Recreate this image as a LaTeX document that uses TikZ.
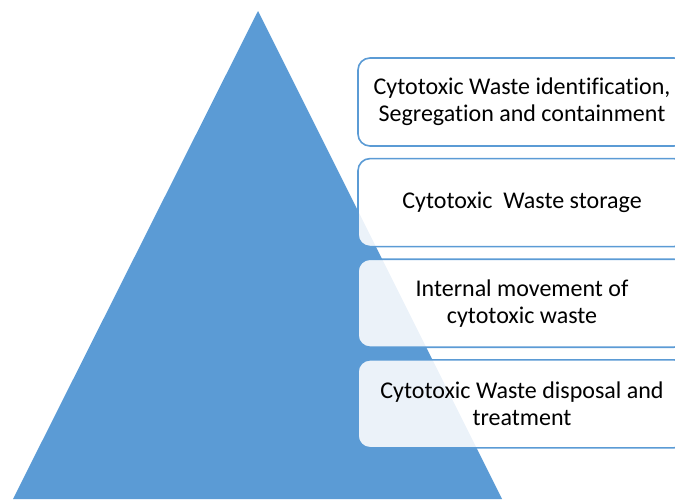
\documentclass[tikz,border=0pt]{standalone}
\usepackage{fontspec}
\setmainfont{Carlito}[Ligatures=NoCommon]
\usetikzlibrary{positioning}
\definecolor{pyrblue}{HTML}{5B9BD5}

\begin{document}
\begin{tikzpicture}[
                x=1pt, y=-1pt,
                node distance=11pt,
                stage/.style={draw=pyrblue, line width=1.6pt, fill=white,
                        fill opacity=0.88, text opacity=1, rounded corners=12pt,
                        minimum width=328pt, minimum height=88pt, inner sep=0pt,
                        align=center, font=\fontsize{24}{27}\selectfont}
            ]

            \clip (0,0) rectangle (675,499);

            % pyramid
            \coordinate (apex) at (258,11);
            \coordinate (baseL) at (13,499);
            \coordinate (baseR) at (502,499);
            \fill[pyrblue] (apex) -- (baseR) -- (baseL) -- cycle;

            % stages
            \node[stage] (identify) at (522,102) {Cytotoxic Waste identification,\\Segregation and containment};
            \node[stage, below=of identify] (storage) {Cytotoxic\ \ Waste storage};
            \node[stage, below=of storage] (movement) {Internal movement of\\cytotoxic waste};
            \node[stage, below=of movement] (disposal) {Cytotoxic Waste disposal and\\treatment};

        \end{tikzpicture}
\end{document}
